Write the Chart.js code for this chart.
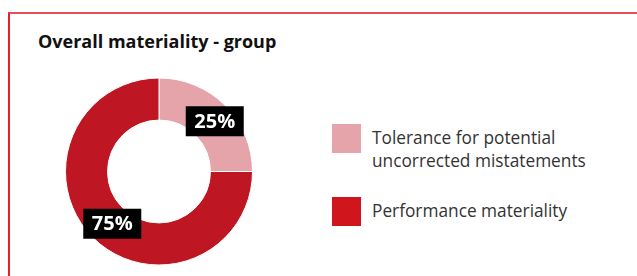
<!DOCTYPE html>
<html>
<head>
<meta charset="utf-8">
<script src="https://cdn.jsdelivr.net/npm/chart.js@4.4.1/dist/chart.umd.min.js"></script>
<style>
    html, body { margin: 0; padding: 0; background: #fff; }
    body { width: 637px; height: 276px; position: relative; overflow: hidden; font-family: 'Open Sans', sans-serif; }
    .frame {
        position: absolute; left: 8px; top: 12px; width: 640px; height: 280px;
        border-top: 2px solid #e5505a; border-left: 2px solid #ea1f2a;
    }
    .title { position: absolute; left: 38px; top: 29px; font-size: 18px; line-height: 24px; font-weight: 700; color: #111; }
    .chart-wrap { position: absolute; left: 55px; top: 67px; width: 208px; height: 209px; }
    .legend { position: absolute; left: 332px; top: 124px; }
    .legend-item { position: relative; padding-left: 40px; padding-top: 2px; margin-bottom: 25px; font-size: 17.3px; line-height: 23px; color: #333; font-weight: 400; }
    .legend-box { position: absolute; left: 0; top: 0; width: 29px; height: 29px; }
</style>
</head>
<body>
<div class="frame"></div>
<div class="title">Overall materiality - group</div>
<div class="chart-wrap"><canvas id="donut"></canvas></div>
<div class="legend" id="legend"></div>

<script>
    const labels = [['Tolerance for potential', 'uncorrected mistatements'], ['Performance materiality']];
    const values = [25, 75];
    const sliceColors = ['#e5a3aa', '#be1622'];
    const legendColors = ['#e5a3aa', '#d0151d'];

    const boxLabels = {
        id: 'boxLabels',
        afterDatasetsDraw(chart) {
            const ctx = chart.ctx;
            const meta = chart.getDatasetMeta(0);
            ctx.save();
            ctx.font = 'bold 20px "Open Sans", sans-serif';
            ctx.textAlign = 'center';
            ctx.textBaseline = 'middle';
            meta.data.forEach((arc, i) => {
                const pos = arc.tooltipPosition();
                const x = pos.x + 4.5;
                const y = pos.y + 1;
                ctx.fillStyle = '#000';
                ctx.fillRect(x - 29, y - 15, 58, 30);
                ctx.fillStyle = '#fff';
                ctx.fillText(values[i] + '%', x, y + 1);
            });
            ctx.restore();
        }
    };

    new Chart(document.getElementById('donut'), {
        type: 'doughnut',
        data: {
            labels: labels.map(l => l.join(' ')),
            datasets: [{
                data: values,
                backgroundColor: sliceColors,
                borderColor: '#fff',
                borderWidth: 1
            }]
        },
        options: {
            responsive: true,
            maintainAspectRatio: false,
            animation: false,
            cutout: '55%',
            layout: { padding: 10 },
            plugins: {
                legend: { display: false },
                tooltip: { enabled: false }
            }
        },
        plugins: [boxLabels]
    });

    const legend = document.getElementById('legend');
    labels.forEach((lines, i) => {
        const item = document.createElement('div');
        item.className = 'legend-item';
        item.innerHTML = '<span class="legend-box" style="background:' + legendColors[i] + '"></span>' + lines.join('<br>');
        legend.appendChild(item);
    });
</script>
</body>
</html>
